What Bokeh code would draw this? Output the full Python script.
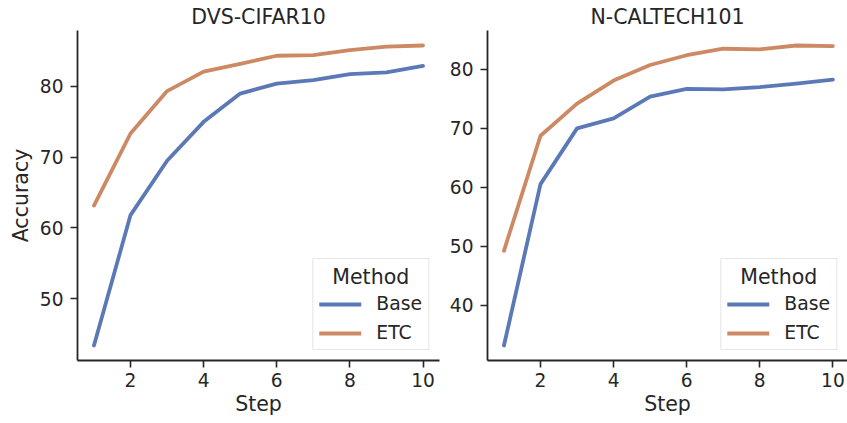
from bokeh.plotting import figure
from bokeh.models import Range1d, FixedTicker, Legend, LegendItem
from bokeh.layouts import row
from bokeh.embed import file_html
from bokeh.resources import INLINE

steps = [1, 2, 3, 4, 5, 6, 7, 8, 9, 10]
cifar_base = [43.35, 61.8, 69.5, 75.0, 79.0, 80.4, 80.9, 81.75, 82.0, 82.9]
cifar_etc = [63.15, 73.35, 79.35, 82.1, 83.2, 84.35, 84.45, 85.15, 85.65, 85.8]
caltech_base = [33.2, 60.55, 70.0, 71.7, 75.4, 76.7, 76.6, 77.0, 77.6, 78.25]
caltech_etc = [49.25, 68.75, 74.2, 78.1, 80.75, 82.4, 83.5, 83.4, 84.05, 83.95]
x_ticks = [2, 4, 6, 8, 10]
cifar_y_ticks = [50, 60, 70, 80]
caltech_y_ticks = [40, 50, 60, 70, 80]
methods = ["Base", "ETC"]
colors = ["#5b79b6", "#cc8963"]

FONT = "DejaVu Sans"
INK = "#262626"


def panel(title, base, etc, yticks, width, border_left, border_right, x_end, ylabel):
    lo = min(base + etc)
    hi = max(base + etc)
    pad = (hi - lo) * 0.05
    p = figure(width=width, height=423, output_backend="svg", toolbar_location=None,
               x_range=Range1d(0.55, x_end), y_range=Range1d(lo - pad, hi + pad),
               min_border_left=border_left, min_border_right=border_right,
               min_border_top=28, min_border_bottom=63)
    p.outline_line_color = None
    p.xgrid.visible = False
    p.ygrid.visible = False
    p.background_fill_color = "white"
    p.border_fill_color = "white"

    p.title.text = title
    p.title.align = "center"
    p.title.text_font = FONT
    p.title.text_font_size = "20.5px"
    p.title.text_font_style = "normal"
    p.title.text_color = INK
    p.title.standoff = 4

    p.xaxis.ticker = FixedTicker(ticks=x_ticks)
    p.yaxis.ticker = FixedTicker(ticks=yticks)
    for ax in (p.xaxis, p.yaxis):
        ax.axis_line_color = INK
        ax.axis_line_width = 1.8
        ax.major_tick_line_color = INK
        ax.major_tick_line_width = 1.6
        ax.major_tick_out = 7
        ax.major_tick_in = 0
        ax.minor_tick_line_color = None
        ax.major_label_text_font = FONT
        ax.major_label_text_font_size = "18.6px"
        ax.major_label_text_color = INK
        ax.axis_label_text_font = FONT
        ax.axis_label_text_font_size = "20.5px"
        ax.axis_label_text_font_style = "normal"
        ax.axis_label_text_color = INK
    p.xaxis.axis_label = "Step"
    p.xaxis.major_label_standoff = 5
    p.xaxis.axis_label_standoff = 2
    p.yaxis.major_label_standoff = 7
    p.yaxis.major_label_orientation = "horizontal"
    if ylabel:
        p.yaxis.axis_label = ylabel
        p.yaxis.axis_label_standoff = 4

    items = []
    for name, vals, c in zip(methods, [base, etc], colors):
        r = p.line(steps, vals, line_color=c, line_width=3.8,
                   line_cap="round", line_join="round")
        items.append(LegendItem(label=name, renderers=[r]))

    leg = Legend(items=items, location="bottom_right", title="\u00a0\u00a0Method")
    leg.title_text_font = FONT
    leg.title_text_font_size = "20.5px"
    leg.title_text_font_style = "normal"
    leg.title_text_color = INK
    leg.title_standoff = 4
    leg.label_text_font = FONT
    leg.label_text_font_size = "18.8px"
    leg.label_text_color = INK
    leg.label_standoff = 15
    leg.glyph_width = 42
    leg.glyph_height = 20
    leg.label_height = 20
    leg.spacing = 8
    leg.padding = 6
    leg.margin = 10
    leg.border_line_color = "#cccccc"
    leg.border_line_width = 1
    leg.background_fill_alpha = 0.8
    p.add_layout(leg)
    return p


p1 = panel("DVS-CIFAR10", cifar_base, cifar_etc, cifar_y_ticks, 441, 77, 2, 10.45, "Accuracy")
p2 = panel("N-CALTECH101", caltech_base, caltech_etc, caltech_y_ticks, 406, 46, 0, 10.40, None)

layout = row(p1, p2)
open("out.html", "w").write(file_html(layout, INLINE))
